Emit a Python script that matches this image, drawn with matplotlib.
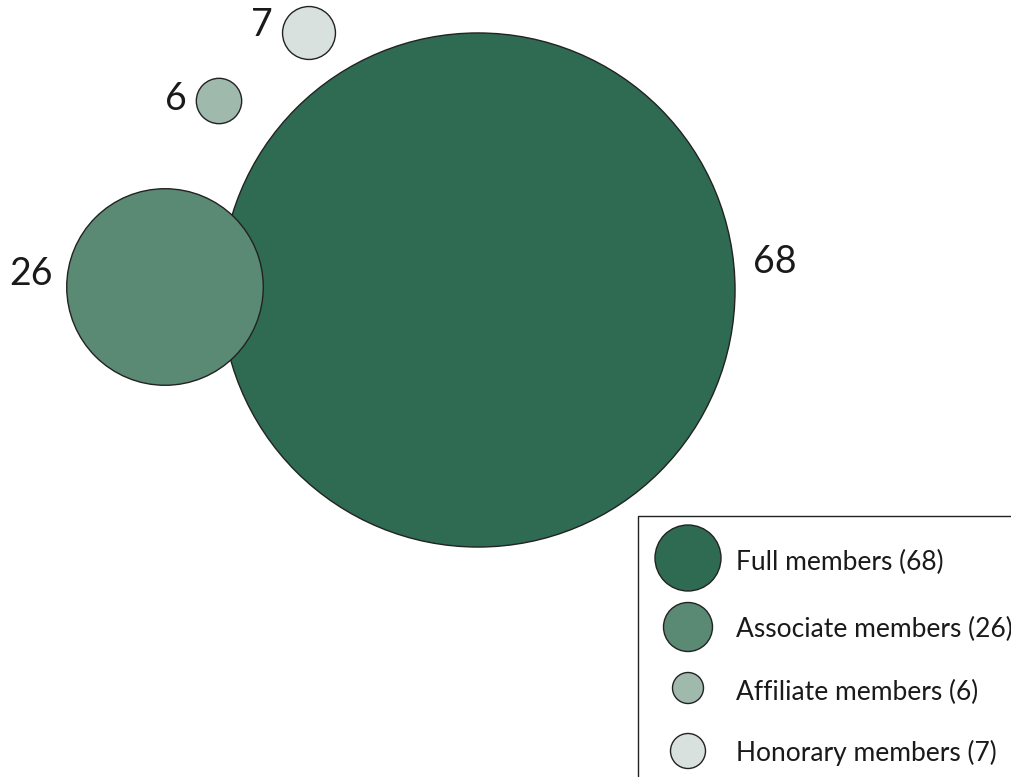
import matplotlib
matplotlib.use("Agg")
import matplotlib.pyplot as plt
from matplotlib.patches import Circle, Rectangle

# Data
categories = ["Full members", "Associate members", "Affiliate members", "Honorary members"]
values = [68, 26, 6, 7]

# Layout (pixel coordinates of circle centres, label anchors)
centers_x = [478, 165, 219, 309]
centers_y = [290, 287, 101, 33]
label_x = [753, 53, 187, 273]
label_y = [262, 274, 99, 25]
label_ha = ["left", "right", "right", "right"]
px_per_unit = 3.78

colors = ["#2e6b52", "#5a8a74", "#a0b9ad", "#d8e1dd"]
edge = "#222222"
text_color = "#1a1a1a"

legend_radii = [33, 24.5, 15.5, 17.5]
legend_y = [558, 627, 688, 751]
legend_text_y = [562, 629, 692, 753]

plt.rcParams['font.family'] = ['Lato', 'DejaVu Sans']

W, H = 1012, 777
fig = plt.figure(figsize=(W / 100, H / 100), dpi=100)
ax = fig.add_axes([0, 0, 1, 1])
ax.set_xlim(0, W)
ax.set_ylim(H, 0)
ax.set_aspect("equal")
ax.axis("off")

for i, v in enumerate(values):
    ax.add_patch(Circle((centers_x[i], centers_y[i]), v * px_per_unit,
                        facecolor=colors[i], edgecolor=edge, linewidth=1.0, zorder=2))
    ax.text(label_x[i], label_y[i], str(v), fontsize=27, color=text_color,
            ha=label_ha[i], va="center", zorder=3)

# Legend box
ax.add_patch(Rectangle((638.5, 515.5), 400, 300, facecolor="white",
                       edgecolor=edge, linewidth=1.0, zorder=4))
for i, (c, v) in enumerate(zip(categories, values)):
    ax.add_patch(Circle((688, legend_y[i]), legend_radii[i], facecolor=colors[i],
                        edgecolor=edge, linewidth=1.0, zorder=5))
    ax.text(736, legend_text_y[i], f"{c} ({v})", fontsize=19, color=text_color,
            ha="left", va="center", zorder=6)

fig.savefig("out.png", dpi=100)
